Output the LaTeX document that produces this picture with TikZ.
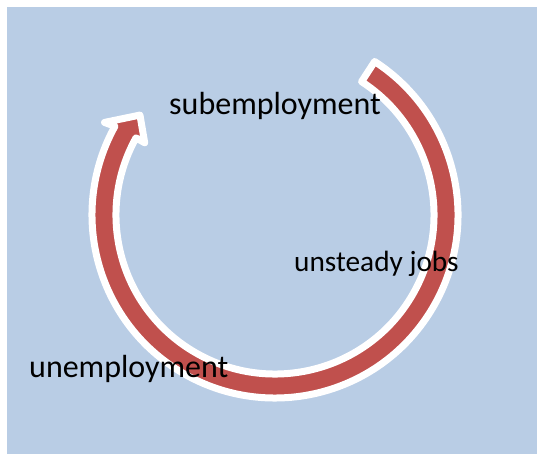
\documentclass[tikz,border=0pt]{standalone}
\usepackage{fontspec}
\setmainfont{Carlito}
\definecolor{panelblue}{HTML}{B9CDE5}
\definecolor{cyclered}{HTML}{C0504D}
\tikzset{
panel/.style={fill=panelblue,draw=none},
cycle arrow/.style={fill=cyclered,draw=white,line width=7pt,line join=round},
cycle label/.style={anchor=base west,inner sep=0pt,font=\fontsize{32}{38}\selectfont},
small label/.style={cycle label,font=\fontsize{29.3}{35}\selectfont},
}

\begin{document}
\begin{tikzpicture}[x=1pt,y=1pt]
\useasboundingbox (0,0) rectangle (537,454);
\fill[panel] (7,0) rectangle (537,447);
\coordinate (hub) at (275,239);
% the cycle, clockwise from the tail at the top right
\path[cycle arrow]
  ([shift={(57:183pt)}]hub) arc[start angle=57,end angle=-209,radius=183pt]
  -- ([shift={(-208.5:194pt)}]hub)
  -- ([shift={(-216.5:168pt)}]hub)
  -- ([shift={(-209:149pt)}]hub)
  -- ([shift={(-209:159pt)}]hub) arc[start angle=-209,end angle=57,radius=159pt]
  -- cycle;
\node[cycle label] (sub) at (169,339.7) {subemployment};
\node[small label] (jobs) at (294,182.3) {unsteady jobs};
\node[cycle label] (unemp) at (29,76) {unemployment};
\end{tikzpicture}
\end{document}
